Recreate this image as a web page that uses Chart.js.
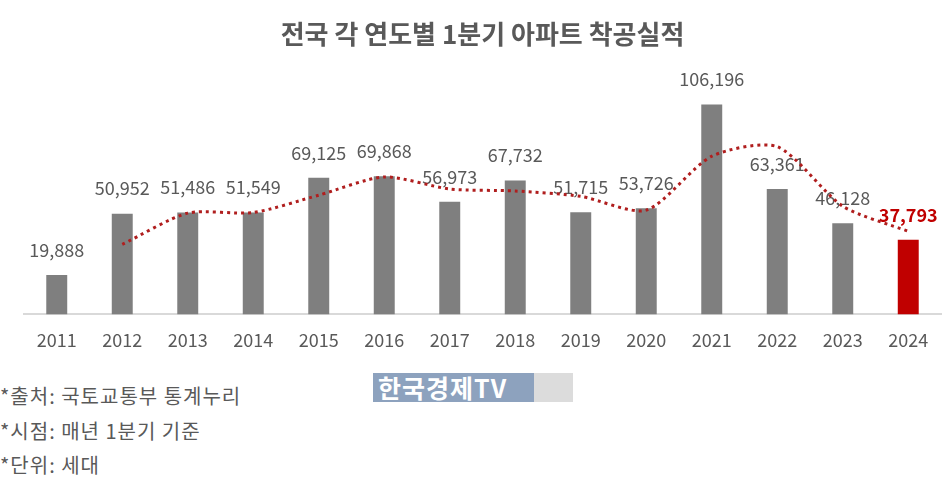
<!DOCTYPE html>
<html>
<head>
<meta charset="utf-8">
<script src="https://cdn.jsdelivr.net/npm/chart.js@4"></script>
<style>
  html, body { margin: 0; padding: 0; background: #fff; }
  #wrap { position: relative; width: 948px; height: 486px; }
  #box { position: absolute; left: 0; top: 0; width: 948px; height: 366px; }
  .note { position: absolute; left: 0; font: 20px "Noto Sans CJK KR", sans-serif; color: #595959; letter-spacing: 1px; white-space: nowrap; }
  #logo { position: absolute; left: 373px; top: 373px; width: 161px; height: 29px; background: #8da2be;
          color: #fff; font: bold 25px "Noto Sans CJK KR", sans-serif; line-height: 29px; padding-left: 5px; box-sizing: border-box; letter-spacing: 1px; overflow: hidden; white-space: nowrap; }
  #logo2 { position: absolute; left: 534px; top: 373px; width: 39px; height: 29px; background: #dcdcdc; }
</style>
</head>
<body>
<div id="wrap">
  <div id="box"><canvas id="aptChart"></canvas></div>
  <div id="logo">한국경제TV</div>
  <div id="logo2"></div>
  <div class="note" style="top:381px">*출처: 국토교통부 통계누리</div>
  <div class="note" style="top:416px">*시점: 매년 1분기 기준</div>
  <div class="note" style="top:450px">*단위: 세대</div>
</div>
<script>
const years = ['2011','2012','2013','2014','2015','2016','2017','2018','2019','2020','2021','2022','2023','2024'];
const starts = [19888, 50952, 51486, 51549, 69125, 69868, 56973, 67732, 51715, 53726, 106196, 63361, 46128, 37793];
// dotted trend line
const trend = [null, 35400, 51200, 51500, 60300, 69500, 63400, 62400, 59700, 52700, 80000, 84800, 54700, 42000];

const gray = '#7f7f7f';
const red = '#c00000';
const font = '"Noto Sans CJK KR", sans-serif';

const barColors = starts.map((v, i) => i === starts.length - 1 ? red : gray);

// value labels above bars (drawn before the dotted line)
const valueLabels = {
    id: 'valueLabels',
    afterDatasetDraw(chart, args) {
        if (args.index !== 0) return;
        const ctx = chart.ctx;
        ctx.save();
        ctx.textAlign = 'center';
        ctx.textBaseline = 'middle';
        args.meta.data.forEach((bar, i) => {
            const last = i === starts.length - 1;
            ctx.fillStyle = last ? red : '#595959';
            ctx.font = (last ? 'bold ' : '') + '18px ' + font;
            ctx.fillText(starts[i].toLocaleString('en-US'), bar.x, bar.y - 25);
        });
        ctx.restore();
    }
};

new Chart(document.getElementById('aptChart'), {
    data: {
        labels: years,
        datasets: [{
            type: 'bar',
            data: starts,
            backgroundColor: barColors,
            barPercentage: 0.32,
            categoryPercentage: 1,
            order: 1
        }, {
            type: 'line',
            data: trend,
            borderColor: '#b01e1e',
            borderWidth: 3,
            borderDash: [3, 4],
            tension: 0.25,
            pointRadius: 0,
            fill: false,
            order: 0
        }]
    },
    options: {
        responsive: true,
        maintainAspectRatio: false,
        animation: false,
        layout: { padding: { left: 24, right: 7, top: 0, bottom: 0 } },
        plugins: {
            legend: { display: false },
            tooltip: { enabled: false },
            title: {
                display: true,
                text: '전국 각 연도별 1분기 아파트 착공실적',
                color: '#595959',
                font: { family: font, size: 26, weight: 'bold' },
                padding: { top: 19, bottom: 17 }
            }
        },
        scales: {
            x: {
                grid: { display: false, drawTicks: false },
                border: { display: true, color: '#d9d9d9', width: 2 },
                ticks: { color: '#595959', font: { family: font, size: 18 }, padding: 15 }
            },
            y: {
                display: false,
                min: 0,
                max: 125000
            }
        }
    },
    plugins: [valueLabels]
});
</script>
</body>
</html>
